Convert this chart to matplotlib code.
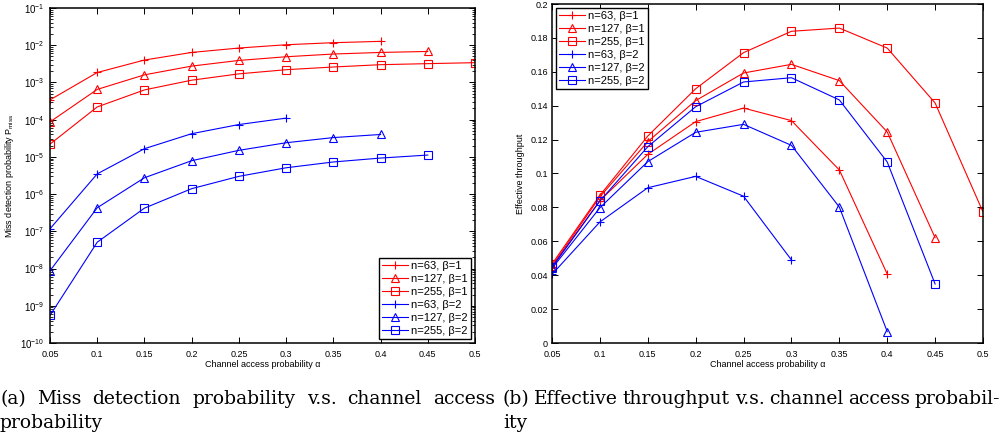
import numpy as np
import matplotlib
matplotlib.use('Agg')
import matplotlib.pyplot as plt
from matplotlib.ticker import LogLocator, NullFormatter, FormatStrFormatter

plt.rcParams['font.family'] = ['Liberation Sans', 'DejaVu Sans']
plt.rcParams['mathtext.default'] = 'regular'

alpha = [0.05, 0.1, 0.15, 0.2, 0.25, 0.3, 0.35, 0.4, 0.45, 0.5]
labels = ['n=63, \u03b2=1', 'n=127, \u03b2=1', 'n=255, \u03b2=1',
          'n=63, \u03b2=2', 'n=127, \u03b2=2', 'n=255, \u03b2=2']

# (a) miss detection probability
pm_63_b1 = [3.4e-4, 1.85e-3, 4.0e-3, 6.4e-3, 8.4e-3, 1.03e-2, 1.17e-2, 1.27e-2]
pm_127_b1 = [8.7e-5, 6.5e-4, 1.6e-3, 2.75e-3, 3.9e-3, 4.9e-3, 5.8e-3, 6.4e-3, 6.8e-3]
pm_255_b1 = [2.2e-5, 2.2e-4, 6.3e-4, 1.15e-3, 1.7e-3, 2.2e-3, 2.6e-3, 3.0e-3, 3.2e-3, 3.4e-3]
pm_63_b2 = [1.17e-7, 3.5e-6, 1.66e-5, 4.2e-5, 7.4e-5, 1.1e-4]
pm_127_b2 = [8.7e-9, 4.3e-7, 2.75e-6, 7.9e-6, 1.5e-5, 2.4e-5, 3.3e-5, 4.0e-5]
pm_255_b2 = [5.5e-10, 5.1e-8, 4.2e-7, 1.4e-6, 3.0e-6, 5.1e-6, 7.3e-6, 9.3e-6, 1.12e-5]

# (b) effective throughput
th_63_b1 = [0.0450, 0.0840, 0.1113, 0.1306, 0.1386, 0.1312, 0.1021, 0.0407]
th_127_b1 = [0.0455, 0.0862, 0.1188, 0.1430, 0.1593, 0.1644, 0.1548, 0.1245, 0.0621]
th_255_b1 = [0.0466, 0.0871, 0.1221, 0.1500, 0.1713, 0.1839, 0.1858, 0.1740, 0.1416, 0.0773]
th_63_b2 = [0.0405, 0.0714, 0.0916, 0.0983, 0.0866, 0.0490]
th_127_b2 = [0.0440, 0.0798, 0.1070, 0.1243, 0.1290, 0.1166, 0.0802, 0.0067]
th_255_b2 = [0.0447, 0.0838, 0.1158, 0.1394, 0.1540, 0.1565, 0.1434, 0.1068, 0.0348]

styles = [('r', '+'), ('r', '^'), ('r', 's'), ('b', '+'), ('b', '^'), ('b', 's')]

W, H = 1003, 436
fig = plt.figure(figsize=(W / 100, H / 100), dpi=100)
ax1 = fig.add_axes([50 / W, 1 - 343 / H, 425 / W, 335 / H])
ax2 = fig.add_axes([552 / W, 1 - 343 / H, 431 / W, 339 / H])


def draw(ax, series):
    for ys, (c, m), lab in zip(series, styles, labels):
        ax.plot(alpha[:len(ys)], ys, color=c, marker=m, markersize=5.5,
                markerfacecolor='none', markeredgewidth=0.8, linewidth=0.8, label=lab)
    ax.set_xlim(0.05, 0.5)
    ax.set_xticks(alpha)
    ax.xaxis.set_major_formatter(FormatStrFormatter('%g'))
    ax.tick_params(direction='in', top=True, right=True, length=4, width=0.7,
                   labelsize=6.5, pad=3)
    ax.tick_params(axis='x', pad=5)
    ax.tick_params(which='minor', direction='in', top=True, right=True, length=2, width=0.6)
    for s in ax.spines.values():
        s.set_linewidth(1.1)
    ax.set_xlabel('Channel access probability \u03b1', fontsize=6.5, labelpad=1)


draw(ax1, [pm_63_b1, pm_127_b1, pm_255_b1, pm_63_b2, pm_127_b2, pm_255_b2])
ax1.set_yscale('log')
ax1.set_ylim(1e-10, 1e-1)
ax1.yaxis.set_major_locator(LogLocator(base=10, numticks=15))
ax1.yaxis.set_minor_locator(LogLocator(base=10, subs=np.arange(2, 10), numticks=15))
ax1.yaxis.set_minor_formatter(NullFormatter())
ax1.tick_params(axis='y', labelsize=7.0, pad=4)
ax1.set_ylabel('Miss detection probability P$_{miss}$', fontsize=6.5, labelpad=3)
leg1 = ax1.legend(loc='lower right', fontsize=8, fancybox=False, edgecolor='black',
                  framealpha=1, handlelength=2.3, labelspacing=0.26,
                  borderaxespad=0.35, borderpad=0.3, handletextpad=0.3)
leg1.get_frame().set_linewidth(1.0)

draw(ax2, [th_63_b1, th_127_b1, th_255_b1, th_63_b2, th_127_b2, th_255_b2])
ax2.set_ylim(0, 0.2)
ax2.set_yticks(np.arange(0, 0.201, 0.02))
ax2.yaxis.set_major_formatter(FormatStrFormatter('%g'))
ax2.set_ylabel('Effective throughput', fontsize=6.5, labelpad=4)
leg2 = ax2.legend(loc='upper left', fontsize=8, fancybox=False, edgecolor='black',
                  framealpha=1, handlelength=2.3, labelspacing=0.26,
                  borderaxespad=0.35, borderpad=0.3, handletextpad=0.3)
leg2.get_frame().set_linewidth(1.0)

# captions, justified like the LaTeX source
cap_size = 13.5
cap_font = 'DejaVu Serif'
rend = fig.canvas.get_renderer()


def caption_line(text, x0, x1, y, justify=True):
    words = text.split(' ')
    ts = [fig.text(0, 1 - y / H, w, fontsize=cap_size, family=cap_font,
                   va='baseline', ha='left') for w in words]
    widths = [t.get_window_extent(rend).width for t in ts]
    if justify and len(ts) > 1:
        gap = (x1 - x0 - sum(widths)) / (len(ts) - 1)
    else:
        gap = 0
    x = x0
    for t, w in zip(ts, widths):
        t.set_x(x / W)
        x += w + gap


caption_line('(a) Miss detection probability v.s. channel access', 0, 495, 404)
caption_line('probability', 0, 495, 428, justify=False)
caption_line('(b) Effective throughput v.s. channel access probabil-', 503, 1000, 404)
caption_line('ity', 503, 1000, 428, justify=False)

fig.savefig('out.png', dpi=100)
